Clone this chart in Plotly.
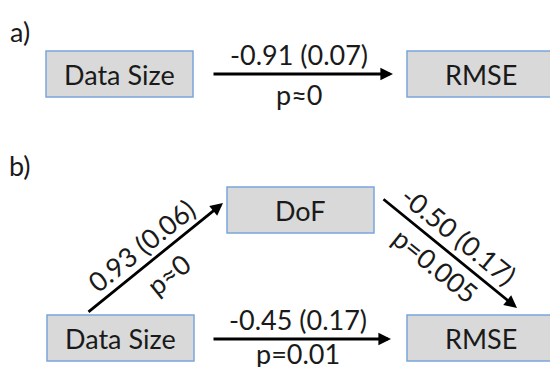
import plotly.graph_objects as go

# ---- data ----
panel_labels = ["a)", "b)"]
nodes_a = ["Data Size", "RMSE"]
nodes_b = ["Data Size", "DoF", "RMSE"]
coef_a = [-0.91]
se_a = [0.07]
p_a = ["p≈0"]
paths_b = ["Data Size→DoF", "DoF→RMSE", "Data Size→RMSE"]
coef_b = [0.93, -0.50, -0.45]
se_b = [0.06, 0.17, 0.17]
p_b = ["p≈0", "p=0.005", "p=0.01"]

# ---- layout geometry (pixels, y down) ----
W, H = 550, 367
FONT = "Lato, 'Open Sans', sans-serif"
FS = 27
BOX_W, BOX_H = 147, 46
box_pos = {
    ("a", "Data Size"): (46, 51),
    ("a", "RMSE"): (407, 51),
    ("b", "DoF"): (227, 187),
    ("b", "Data Size"): (47, 315),
    ("b", "RMSE"): (407, 315),
}
arrows = {
    ("a", 0): ((212, 74), (393, 74)),
    ("b", 0): ((87, 313), (223, 203)),
    ("b", 1): ((382, 198), (517, 308)),
    ("b", 2): ((212, 339), (391, 339)),
}
label_pos = {  # (upper label xy, lower label xy, angle)
    ("a", 0): ((299, 54), (299, 94), 0),
    ("b", 0): ((141, 245), (168, 274), -39),
    ("b", 1): ((459, 235), (436, 265), 39),
    ("b", 2): ((298, 319), (298, 353), 0),
}
panel_pos = [(20, 31), (20, 165)]

fig = go.Figure()
fig.add_trace(go.Scatter(x=[0, W], y=[0, H], mode="markers",
                         marker=dict(opacity=0), hoverinfo="skip", showlegend=False))

shapes, annos = [], []

def fmt(c, s):
    return f"{c:.2f} ({s:.2f})"

for (panel, name), (x0, y0) in box_pos.items():
    shapes.append(dict(type="rect", xref="x", yref="y", x0=x0, y0=y0,
                       x1=x0 + BOX_W, y1=y0 + BOX_H,
                       fillcolor="#d9d9d9", line=dict(color="#7aa6dc", width=1.5)))
    annos.append(dict(x=x0 + BOX_W / 2, y=y0 + BOX_H / 2, xref="x", yref="y",
                      text=name, showarrow=False,
                      font=dict(family=FONT, size=FS, color="#1a1a1a")))

def add_path(panel, i, coef, se, p):
    (tx, ty), (hx, hy) = arrows[(panel, i)]
    annos.append(dict(x=hx, y=hy, ax=tx, ay=ty, xref="x", yref="y",
                      axref="x", ayref="y", text="", showarrow=True,
                      arrowhead=2, arrowsize=0.9, arrowwidth=2.8,
                      arrowcolor="black", standoff=0, startstandoff=0))
    (ux, uy), (lx, ly), ang = label_pos[(panel, i)]
    annos.append(dict(x=ux, y=uy, xref="x", yref="y", text=fmt(coef, se),
                      showarrow=False, textangle=ang,
                      font=dict(family=FONT, size=FS, color="#1a1a1a")))
    annos.append(dict(x=lx, y=ly, xref="x", yref="y", text=p,
                      showarrow=False, textangle=ang,
                      font=dict(family=FONT, size=FS, color="#1a1a1a")))

for i in range(len(coef_a)):
    add_path("a", i, coef_a[i], se_a[i], p_a[i])
for i in range(len(coef_b)):
    add_path("b", i, coef_b[i], se_b[i], p_b[i])

for lbl, (x, y) in zip(panel_labels, panel_pos):
    annos.append(dict(x=x, y=y, xref="x", yref="y", text=lbl, showarrow=False,
                      font=dict(family=FONT, size=FS, color="#1a1a1a")))

fig.update_layout(
    width=W, height=H, autosize=False,
    margin=dict(l=0, r=0, t=0, b=0),
    paper_bgcolor="white", plot_bgcolor="white",
    xaxis=dict(range=[0, W], visible=False, fixedrange=True),
    yaxis=dict(range=[H, 0], visible=False, fixedrange=True),
    shapes=shapes, annotations=annos, showlegend=False,
)

fig.write_html("out.html", config={"displayModeBar": False})

# remove the browser's default body margin so the figure fills the window
with open("out.html", "r", encoding="utf-8") as f:
    html = f.read()
html = html.replace("<head>", "<head><style>html,body{margin:0;padding:0;overflow:hidden;}</style>", 1)
with open("out.html", "w", encoding="utf-8") as f:
    f.write(html)
